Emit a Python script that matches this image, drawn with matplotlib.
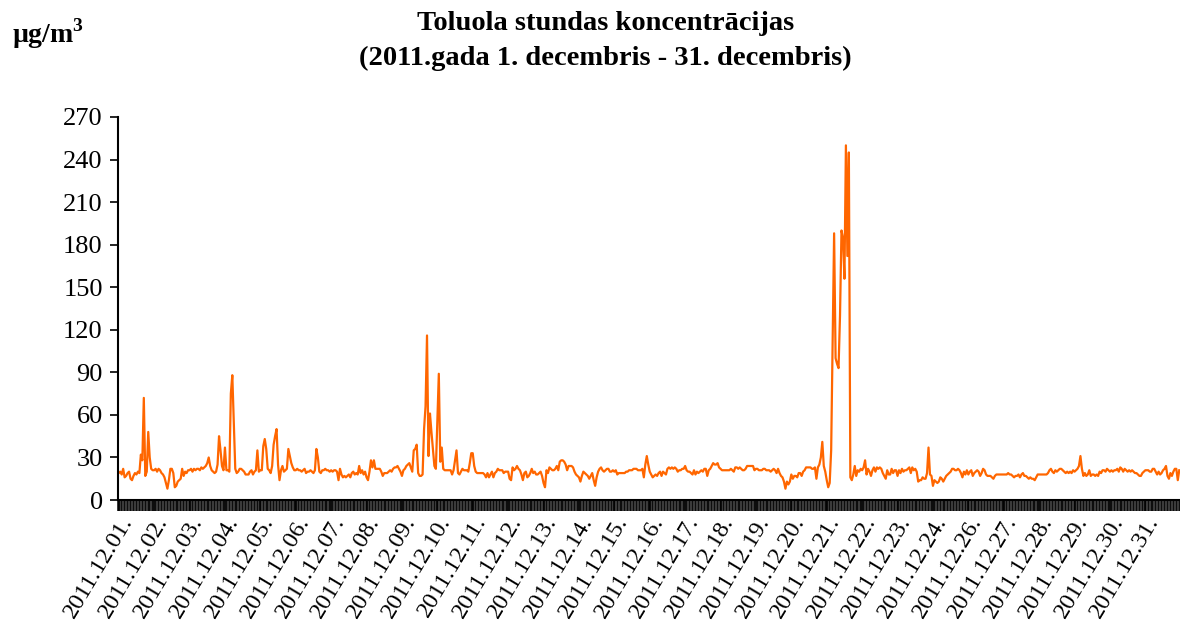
import matplotlib
matplotlib.use("Agg")
import matplotlib.pyplot as plt
import numpy as np

# hourly toluene concentrations, ug/m3, December 2011 (no data for the 25th)
d01 = [19,20,18,22,16,17,19,20,15,14,17,19,18,20,19,32,28,72,17,20,48,30,22,21]
d02 = [21,22,20,22,21,19,18,16,12,8,14,22,22,19,9,10,13,14,15,22,17,20,19,21]
d03 = [21,22,20,22,21,22,22,21,23,22,23,24,26,30,24,21,20,19,20,25,45,35,24,21]
d04 = [37,21,21,20,75,88,55,22,19,20,22,22,21,20,18,18,18,20,21,18,20,21,35,20]
d05 = [21,21,38,43,36,22,21,19,24,39,45,50,25,14,21,24,20,21,22,36,31,26,23,21]
d06 = [21,22,21,21,20,21,22,19,20,20,21,20,19,21,36,30,20,19,21,21,22,21,21,20]
d07 = [21,20,21,21,20,14,22,18,16,17,16,17,18,16,19,20,18,19,18,24,19,21,18,20]
d08 = [16,14,20,28,23,28,22,22,22,22,20,17,19,19,19,20,21,20,22,23,23,24,22,20]
d09 = [17,21,22,24,25,26,23,20,35,36,39,19,17,17,18,50,66,116,31,61,48,36,24,22]
d10 = [55,89,27,37,22,21,21,21,21,21,18,21,28,35,19,18,20,22,21,21,21,20,26,33]
d11 = [33,24,20,19,19,19,19,19,18,16,19,16,18,20,16,19,20,22,21,21,21,19,20,20]
d12 = [20,15,14,23,21,22,24,22,21,18,14,19,20,16,17,19,22,19,20,18,18,19,20,17]
d13 = [12,9,21,19,23,22,21,21,22,24,21,27,28,28,27,25,21,24,24,24,23,20,18,17]
d14 = [16,13,17,20,19,18,17,15,17,19,14,10,16,20,22,23,21,20,21,22,22,20,20,21]
d15 = [20,21,18,19,19,19,19,19,20,20,21,21,21,22,22,22,21,21,21,22,16,25,31,25]
d16 = [20,18,16,17,18,17,19,20,17,20,19,18,22,23,22,23,22,23,22,20,21,21,22,22]
d17 = [24,21,20,20,19,18,21,18,20,19,20,21,20,22,22,17,21,22,24,26,25,25,26,23]
d18 = [22,21,21,21,21,21,21,22,21,20,23,23,22,23,22,21,21,22,24,24,24,24,24,21]
d19 = [22,22,21,21,21,22,22,21,21,21,20,21,22,21,19,22,19,17,16,13,8,13,11,13]
d20 = [18,15,17,17,16,19,19,17,20,21,23,23,23,23,22,22,23,15,23,25,30,41,24,20]
d21 = [14,9,12,35,110,188,100,96,93,130,190,185,156,250,172,245,16,14,18,24,17,21,20,22]
d22 = [21,23,28,18,22,20,17,21,23,20,23,22,23,22,19,17,15,21,18,18,22,19,21,21]
d23 = [17,21,19,22,20,21,21,22,23,19,23,21,22,20,13,14,14,16,15,15,19,37,18,17]
d24 = [10,14,13,12,13,16,15,13,15,17,18,19,20,22,22,21,21,22,21,19,16,20,18,21]
d26 = [18,20,21,17,19,20,21,20,17,19,22,21,18,17,17,17,16,15,17,18,18,18,18,18]
d27 = [18,18,18,19,18,18,17,16,17,17,18,16,18,19,17,17,16,15,16,15,15,14,16,18]
d28 = [18,18,18,18,18,18,19,21,22,20,19,21,20,21,22,22,21,20,19,20,19,20,19,21]
d29 = [20,21,22,24,31,22,17,19,17,18,21,17,18,18,17,18,17,20,19,21,21,20,22,21]
d30 = [20,21,20,21,21,22,20,23,22,20,22,21,20,21,20,21,20,19,19,18,17,17,19,20]
d31 = [21,21,21,20,20,22,22,20,18,20,18,19,21,22,24,17,15,19,17,20,22,22,14,21]

day_labels = ["2011.12.%02d." % d for d in list(range(1, 25)) + list(range(26, 32))]
y_ticks = [0, 30, 60, 90, 120, 150, 180, 210, 240, 270]

days = [d01, d02, d03, d04, d05, d06, d07, d08, d09, d10, d11, d12, d13, d14, d15,
        d16, d17, d18, d19, d20, d21, d22, d23, d24, d26, d27, d28, d29, d30, d31]
values = np.concatenate(days)
hours = np.arange(len(values))

plt.rcParams['font.family'] = ['Liberation Serif', 'DejaVu Serif']
plt.rcParams['mathtext.fontset'] = 'custom'
plt.rcParams['mathtext.rm'] = 'Liberation Serif'
plt.rcParams['mathtext.bf'] = 'Liberation Serif:bold'

fig = plt.figure(figsize=(11.8, 6.3), dpi=100)
ax = fig.add_axes([0.1, 0.2063, 0.9, 0.608])

ax.plot(hours, values, color='#FF6600', lw=1.6)

ax.set_xlim(-0.5, len(values) - 0.5)
ax.set_ylim(0, 270)
ax.set_yticks(y_ticks)
ax.tick_params(axis='y', labelsize=19, length=6, width=1.2, direction='out', pad=5)

ax.set_xticks(np.arange(len(days)) * 24)
ax.set_xticklabels(day_labels, rotation=59, ha='right', va='top',
                   rotation_mode='anchor', fontsize=17.5)
ax.set_xticks(np.arange(len(values) + 1) - 0.5, minor=True)
ax.tick_params(axis='x', which='both', length=8, width=1.1, direction='out', pad=1)

for s in ['top', 'right']:
    ax.spines[s].set_visible(False)
for s in ['left', 'bottom']:
    ax.spines[s].set_linewidth(1.5)

fig.text(0.513, 0.982, "Toluola stundas koncentrācijas\n(2011.gada 1. decembris - 31. decembris)",
         ha='center', va='top', fontsize=20.5, fontweight='bold', linespacing=1.5)
fig.text(0.01, 0.932, r"µg/m$^\mathbf{3}$", ha='left', va='baseline', fontsize=20,
         fontweight='bold')

fig.savefig("out.png", dpi=100)
